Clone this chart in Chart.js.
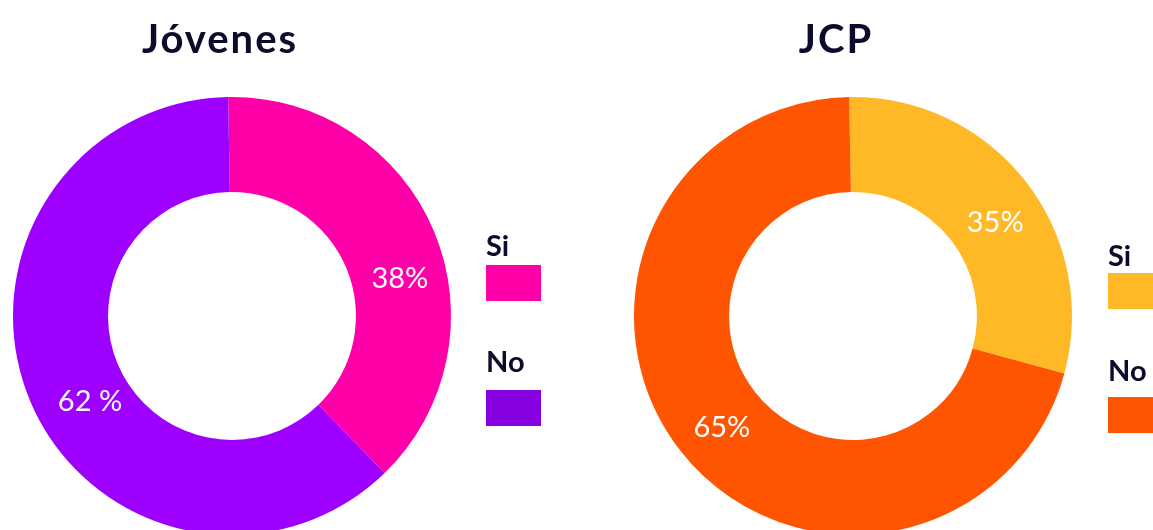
<!DOCTYPE html>
<html lang="es">
<head>
<meta charset="utf-8">
<title>Jóvenes / JCP</title>
<script src="https://cdn.jsdelivr.net/npm/chart.js@4.4.1/dist/chart.umd.min.js"></script>
<style>
    html, body {
        margin: 0;
        padding: 0;
        background: #ffffff;
    }
    body {
        position: relative;
        width: 1153px;
        height: 530px;
        overflow: hidden;
        font-family: 'Lato', 'Open Sans', sans-serif;
        color: #0b0b2a;
    }
    canvas {
        position: absolute;
        top: 0;
    }
    .title {
        position: absolute;
        top: 18px;
        width: 400px;
        text-align: center;
        font-size: 40px;
        font-weight: 700;
        letter-spacing: 2px;
        line-height: 1;
    }
    .legend-label {
        position: absolute;
        font-size: 29px;
        font-weight: 700;
        line-height: 1;
    }
    .legend-box {
        position: absolute;
        width: 55px;
        height: 36px;
    }
</style>
</head>
<body>
<canvas id="chartJovenes" width="600" height="600" style="left:0px"></canvas>
<canvas id="chartJcp" width="600" height="600" style="left:621px"></canvas>

<script>
// Data
const groups = ['Jóvenes', 'JCP'];
const categories = ['Si', 'No'];
const jovenesValues = [38, 62];
const jcpValues = [29.5, 70.5];
const jovenesLabels = ['38%', '62 %'];
const jcpLabels = ['35%', '65%'];

// Styles
const sliceColors = [['#FF00A8', '#9D00FF'], ['#FFB927', '#FF5500']];
const legendColors = [['#FF00A8', '#8600E2'], ['#FFB927', '#FF5500']];
// label spot per slice: [angle from top, clockwise in degrees, fraction of outer radius]
const labelSpots = [
    [[77.6, 0.785], [238.8, 0.758]],
    [[56.8, 0.776], [229.7, 0.785]]
];
const titleCenters = [220, 836];
const legendLefts = [486, 1108];
const legendTops = [[230, 265, 346, 390], [240, 273, 355, 397]];

// Draw the percentage text inside each slice
const sliceTextPlugin = {
    id: 'sliceText',
    afterDatasetsDraw(chart, args, opts) {
        const ctx = chart.ctx;
        const arcs = chart.getDatasetMeta(0).data;
        ctx.save();
        ctx.fillStyle = '#ffffff';
        ctx.font = '400 29px Lato, "Open Sans", sans-serif';
        ctx.textAlign = 'center';
        ctx.textBaseline = 'middle';
        arcs.forEach((arc, i) => {
            const spot = opts.spots[i];
            const a = spot[0] * Math.PI / 180;
            const r = arc.outerRadius * spot[1];
            ctx.fillText(opts.texts[i], arc.x + r * Math.sin(a), arc.y - r * Math.cos(a));
        });
        ctx.restore();
    }
};

function buildChart(canvasId, values, texts, idx) {
    const ctx = document.getElementById(canvasId).getContext('2d');
    return new Chart(ctx, {
        type: 'doughnut',
        data: {
            labels: categories,
            datasets: [{
                data: values,
                backgroundColor: sliceColors[idx],
                borderWidth: 0
            }]
        },
        options: {
            responsive: false,
            animation: false,
            cutout: '56.6%',
            rotation: -1,
            layout: {
                padding: { left: 13, top: 97, right: 149, bottom: 65 }
            },
            plugins: {
                legend: { display: false },
                tooltip: { enabled: false },
                sliceText: { spots: labelSpots[idx], texts: texts }
            }
        },
        plugins: [sliceTextPlugin]
    });
}

// Titles and legends as page text
function buildTexts() {
    groups.forEach((name, idx) => {
        const title = document.createElement('div');
        title.className = 'title';
        title.textContent = name;
        title.style.left = (titleCenters[idx] - 200) + 'px';
        document.body.appendChild(title);

        categories.forEach((cat, j) => {
            const label = document.createElement('div');
            label.className = 'legend-label';
            label.textContent = cat;
            label.style.left = legendLefts[idx] + 'px';
            label.style.top = legendTops[idx][j * 2] + 'px';
            document.body.appendChild(label);

            const box = document.createElement('div');
            box.className = 'legend-box';
            box.style.background = legendColors[idx][j];
            box.style.left = legendLefts[idx] + 'px';
            box.style.top = legendTops[idx][j * 2 + 1] + 'px';
            document.body.appendChild(box);
        });
    });
}

buildChart('chartJovenes', jovenesValues, jovenesLabels, 0);
buildChart('chartJcp', jcpValues, jcpLabels, 1);
buildTexts();
</script>
</body>
</html>
